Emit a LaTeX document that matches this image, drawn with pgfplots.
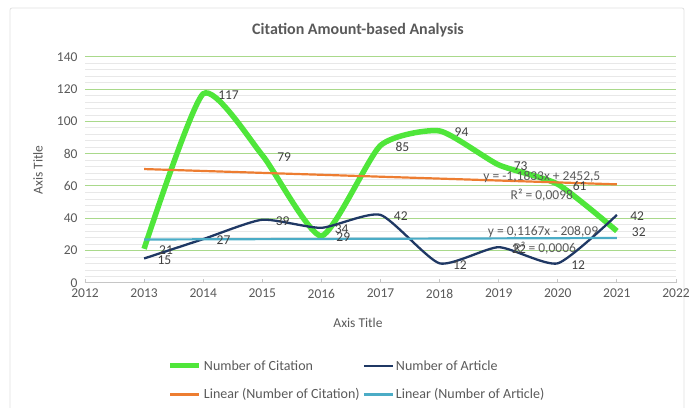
\documentclass[border=0pt]{standalone}
\usepackage{pgfplots}
\pgfplotsset{compat=1.18}
\usepackage{fontspec}
\setmainfont{Carlito}
\definecolor{cgreen}{HTML}{4FE63A}
\definecolor{cnavy}{HTML}{1F3864}
\definecolor{corange}{HTML}{ED7D31}
\definecolor{cblue}{HTML}{4BACC6}
\definecolor{gridgreen}{HTML}{A9D98B}
\definecolor{gridgray}{HTML}{E8E8E8}
\definecolor{txt}{HTML}{595959}
\definecolor{lbl}{HTML}{404040}
\begin{document}
\begin{tikzpicture}
\path[use as bounding box] (-85bp,-125.3bp) rectangle (609bp,282.7bp);
\draw[gray!25, line width=0.8bp, rounded corners=2bp] (-75bp,274.7bp) rectangle (599bp,-130bp);
\begin{axis}[
  scale only axis, width=591bp, height=226bp,
  xmin=2012, xmax=2022, ymin=0, ymax=140,
  xtick={2012,2013,...,2022}, ytick={0,20,...,140},
  minor y tick num=4,
  ymajorgrids, yminorgrids,
  major grid style={gridgreen, line width=0.9bp},
  minor grid style={gridgray, line width=0.5bp},
  axis lines*=left,
  y axis line style={draw=none},
  x axis line style={draw=gray!45, line width=0.8bp, -},
  ytick style={draw=none},
  xtick style={draw=gray!45, line width=0.8bp},
  tick align=inside, major tick length=4bp,
  /pgf/number format/1000 sep={},
  /pgf/number format/assume math mode=true,
  tick label style={font=\fontsize{13.5bp}{15bp}\selectfont, text=txt},
  xticklabel style={yshift=-3bp},
  yticklabel style={xshift=-4bp},
  clip=false,
  legend columns=2,
  legend style={draw=none, fill=none, at={(0.135,-0.325)}, anchor=north west,
    font=\fontsize{14bp}{16bp}\selectfont, text=txt,
    /tikz/every even column/.append style={column sep=1bp},
    row sep=13bp},
  legend cell align=left,
  lab/.style={nodes near coords,
    nodes near coords style={anchor=west, xshift=9bp, yshift=-1.5bp, font=\fontsize{13.5bp}{15bp}\selectfont, text=lbl}},
]
\addplot[cgreen, line width=5.5bp, smooth, tension=0.35, lab,
  legend image code/.code={\draw[cgreen, line width=5bp] (0bp,0bp) -- (29bp,0bp);}] coordinates {
 (2013,21) (2014,117) (2015,79) (2016,29) (2017,85) (2018,94) (2019,73) (2020,61) (2021,32)};
\addlegendentry{Number of Citation}
\addplot[cnavy, line width=2.3bp, smooth, tension=0.35, lab,
  legend image code/.code={\draw[cnavy, line width=2.3bp] (0bp,0bp) -- (29bp,0bp);}] coordinates {
 (2013,15) (2014,27) (2015,39) (2016,34) (2017,42) (2018,12) (2019,22) (2020,12) (2021,42)};
\addlegendentry{Number of Article}
\addplot[corange, line width=2.2bp,
  legend image code/.code={\draw[corange, line width=2.2bp] (0bp,0bp) -- (29bp,0bp);}] coordinates {(2013,70.40) (2021,60.93)};
\addlegendentry{Linear (Number of Citation)}
\addplot[cblue, line width=2.2bp,
  legend image code/.code={\draw[cblue, line width=2.2bp] (0bp,0bp) -- (29bp,0bp);}] coordinates {(2013,26.76) (2021,27.69)};
\addlegendentry{Linear (Number of Article)}
\node[text=txt, font=\fontsize{13.5bp}{15bp}\selectfont] at (axis cs:2019.73,65.7) {y = -1,1833x + 2452,5};
\node[text=txt, font=\fontsize{13.5bp}{15bp}\selectfont] at (axis cs:2019.73,54.3) {R² = 0,0098};
\node[text=txt, font=\fontsize{13.5bp}{15bp}\selectfont] at (axis cs:2019.75,31.6) {y = 0,1167x - 208,09};
\node[text=txt, font=\fontsize{13.5bp}{15bp}\selectfont] at (axis cs:2019.78,21.3) {R² = 0,0006};
\end{axis}
\node[font=\bfseries\fontsize{16bp}{18bp}\selectfont, text=txt] at (273bp,252.7bp) {Citation Amount-based Analysis};
\node[font=\fontsize{13.5bp}{15bp}\selectfont, text=txt] at (273bp,-40.3bp) {Axis Title};
\node[font=\fontsize{13.5bp}{15bp}\selectfont, text=txt, rotate=90] at (-47bp,112.7bp) {Axis Title};
\end{tikzpicture}
\end{document}
